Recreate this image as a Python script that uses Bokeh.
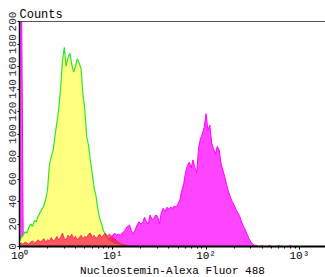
import numpy as np
from bokeh.plotting import figure
from bokeh.models import Range1d, FixedTicker, LinearAxis
from bokeh.embed import file_html
from bokeh.resources import INLINE

# ---- data (histogram counts on log10 channel bins, bin width 0.02 decade) ----
STEP = 0.02

yellow_start = 0.0
yellow_counts = [5, 8, 10, 13, 12, 17, 20, 18, 23, 22,
                 27, 30, 33, 36, 42, 50, 72, 80, 85, 98,
                 110, 122, 140, 165, 177, 160, 168, 172, 162, 155,
                 160, 167, 163, 158, 135, 122, 98, 90, 76, 65,
                 52, 45, 33, 25, 20, 14, 11, 8, 6, 5,
                 4, 3, 3, 2, 2, 1, 1, 0]

red_start = 0.0
red_counts = [2, 3, 2, 4, 3, 2, 4, 5, 3, 4,
              6, 4, 5, 7, 4, 6, 5, 8, 5, 6,
              9, 6, 8, 12, 7, 6, 10, 8, 11, 7,
              9, 6, 8, 10, 7, 9, 8, 11, 12, 8,
              10, 7, 9, 11, 8, 10, 12, 9, 11, 10,
              8, 7, 5, 4, 3, 2, 2, 1, 1, 0]

magenta_start = 0.0
magenta_counts = [250, 250, 2, 1, 2, 1, 1, 2, 1, 1,
                  2, 1, 1, 2, 1, 1, 2, 1, 1, 2,
                  1, 2, 1, 1, 2, 1, 2, 1, 1, 2,
                  1, 2, 2, 1, 2, 2, 1, 2, 2, 2,
                  2, 3, 2, 3, 2, 3,
                  3, 5, 6, 8, 10, 12, 10, 11, 10, 12,
                  13, 16, 18, 19, 14, 11, 15, 19, 22, 20,
                  21, 26, 22, 20, 28, 24, 25, 28, 27, 20,
                  30, 34, 31, 35, 33, 35, 34, 36, 35, 38,
                  42, 50, 56, 66, 72, 75, 70, 77, 70, 66,
                  88, 96, 100, 106, 118, 103, 108, 92, 87, 82,
                  89, 86, 74, 68, 62, 55, 49, 44, 40, 37,
                  33, 30, 27, 22, 18, 15, 11, 7, 4, 2,
                  1, 1, 0, 0, 1, 0, 0, 0, 1, 0,
                  0, 0, 0, 1, 0, 0, 0, 0, 0, 1, 0]

x_ticks = [1, 10, 100, 1000]
x_tick_labels = ["10\u2070", "10\u00b9", "10\u00b2", "10\u00b3"]
y_ticks = [0, 20, 40, 60, 80, 100, 120, 140, 160, 180, 200]

x_label = "Nucleostemin-Alexa Fluor 488"
y_label = "Counts"


def bins(start, counts):
    return 10 ** (start + STEP * np.arange(len(counts)))


FONT = "Liberation Mono"

p = figure(frame_width=306, frame_height=225, x_axis_type="log",
           x_range=Range1d(1, 10 ** 3.28), y_range=Range1d(0, 200),
           output_backend="svg", toolbar_location=None,
           min_border_left=19, min_border_right=0,
           min_border_top=21, min_border_bottom=28)
p.background_fill_color = "white"
p.border_fill_color = "white"
p.outline_line_color = None
p.xgrid.visible = False
p.ygrid.visible = False

# series
xm = bins(magenta_start, magenta_counts)
p.varea(x=xm, y1=0, y2=magenta_counts, fill_color="#ff44ff")
p.line(x=xm, y=magenta_counts, line_color="#ff00ff", line_width=1)

xy = bins(yellow_start, yellow_counts)
p.varea(x=xy, y1=0, y2=yellow_counts, fill_color="#ffff80")
p.line(x=xy, y=yellow_counts, line_color="#2fe52f", line_width=1.2)

xr = bins(red_start, red_counts)
p.varea(x=xr, y1=0, y2=red_counts, fill_color="#ff1050", fill_alpha=0.7)
p.line(x=xr, y=red_counts, line_color="#ff2060", line_width=1, line_alpha=0.9)

# x axis
xa = p.xaxis[0]
minor = [d * k for d in [1, 10, 100, 1000] for k in range(2, 10)]
xa.ticker = FixedTicker(ticks=x_ticks, minor_ticks=minor)
xa.major_label_overrides = {t: l for t, l in zip(x_ticks, x_tick_labels)}
xa.axis_label = x_label
xa.axis_label_text_font = FONT
xa.axis_label_text_font_size = "11px"
xa.axis_label_text_font_style = "normal"
xa.axis_label_text_color = "black"
xa.axis_label_standoff = 0
xa.major_label_text_font = FONT
xa.major_label_text_font_size = "11px"
xa.major_label_text_color = "black"
xa.major_label_standoff = 0
xa.axis_line_color = "black"
xa.axis_line_width = 2
xa.major_tick_out = 3
xa.major_tick_in = 0
xa.minor_tick_out = 2
xa.minor_tick_in = 0
xa.major_tick_line_color = "black"
xa.minor_tick_line_color = "black"

# y axis
ya = p.yaxis[0]
ya.ticker = FixedTicker(ticks=y_ticks)
ya.major_label_orientation = "vertical"
ya.major_label_text_font = FONT
ya.major_label_text_font_size = "11px"
ya.major_label_text_color = "#333333"
ya.major_label_standoff = 2
ya.axis_line_color = "black"
ya.axis_line_width = 1.5
ya.major_tick_out = 2
ya.major_tick_in = 0
ya.minor_tick_line_color = None

# top border line
top = LinearAxis(ticker=FixedTicker(ticks=[]), axis_line_color="#555555",
                 axis_line_width=1, major_tick_line_color=None,
                 minor_tick_line_color=None)
p.add_layout(top, "above")

p.title.text = y_label
p.title.text_font = FONT
p.title.text_font_size = "12px"
p.title.text_font_style = "normal"
p.title.text_color = "black"
p.title.align = "left"
p.title.standoff = 0
p.title.offset = 0

open("out.html", "w").write(file_html(p, INLINE))
